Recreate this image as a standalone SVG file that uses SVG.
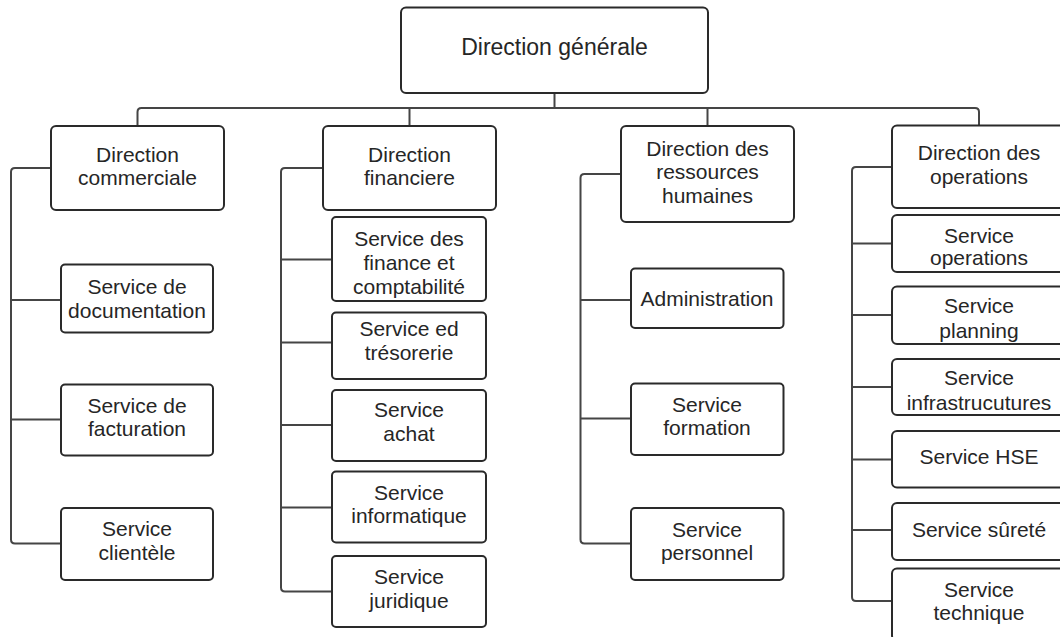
<svg xmlns="http://www.w3.org/2000/svg" width="1060" height="637" viewBox="0 0 1060 637">
<style>
.box{fill:#fff;stroke:#2a2a2a;stroke-width:2}
.con{fill:none;stroke:#454545;stroke-width:2}
text{font-family:"Liberation Sans",Arial,sans-serif;font-size:21px;fill:#262626;text-anchor:middle}
.big{font-size:23px}
</style>
<rect width="1060" height="637" fill="#fff"/>
<g id="connectors">
<path class="con" d="M554.5,93 V108"/>
<path class="con" d="M137.5,126 V112 Q137.5,108 141.5,108 H975 Q979,108 979,112 V125"/>
<path class="con" d="M409.5,108 V126"/>
<path class="con" d="M707.5,108 V126"/>
<path class="con" d="M51,168 H15 Q11,168 11,172 V539.5 Q11,543.5 15,543.5 H61 M11,300 H61 M11,419.5 H61"/>
<path class="con" d="M323,168 H285 Q281,168 281,172 V587.5 Q281,591.5 285,591.5 H332 M281,259.5 H332 M281,342.5 H332 M281,425 H332 M281,507.5 H332"/>
<path class="con" d="M621,174 H584.5 Q580.5,174 580.5,178 V539.5 Q580.5,543.5 584.5,543.5 H631 M580.5,300 H631 M580.5,418.5 H631"/>
<path class="con" d="M892,167 H856 Q852,167 852,171 V597 Q852,601 856,601 H892 M852,243.5 H892 M852,315 H892 M852,387 H892 M852,459.5 H892 M852,530 H892"/>
</g>
<g id="n-dg"><rect class="box" x="401" y="7.5" width="307" height="85.5" rx="5"/><text class="big" x="554.5" y="55">Direction générale</text></g>
<g id="n-dc"><rect class="box" x="51" y="126" width="173" height="84" rx="5"/><text x="137.5" y="161.5">Direction</text><text x="137.5" y="185">commerciale</text></g>
<g id="n-df"><rect class="box" x="323" y="126" width="173" height="84" rx="5"/><text x="409.5" y="161.5">Direction</text><text x="409.5" y="185">financiere</text></g>
<g id="n-drh"><rect class="box" x="621" y="126" width="173" height="96" rx="5"/><text x="707.5" y="155.5">Direction des</text><text x="707.5" y="179">ressources</text><text x="707.5" y="202.5">humaines</text></g>
<g id="n-dop"><rect class="box" x="892" y="125.5" width="174" height="82.5" rx="5"/><text x="979" y="160">Direction des</text><text x="979" y="183.5">operations</text></g>
<g id="n-doc"><rect class="box" x="61" y="264.5" width="152" height="68" rx="4"/><text x="137" y="294">Service de</text><text x="137" y="317.5">documentation</text></g>
<g id="n-fact"><rect class="box" x="61" y="384.5" width="152" height="71" rx="4"/><text x="137" y="412.5">Service de</text><text x="137" y="436">facturation</text></g>
<g id="n-cli"><rect class="box" x="61" y="508" width="152" height="72" rx="4"/><text x="137" y="536">Service</text><text x="137" y="560">clientèle</text></g>
<g id="n-fin"><rect class="box" x="332" y="217" width="154" height="84" rx="4"/><text x="409" y="245.5">Service des</text><text x="409" y="269.5">finance et</text><text x="409" y="293.5">comptabilité</text></g>
<g id="n-tres"><rect class="box" x="332" y="312.5" width="154" height="66.5" rx="4"/><text x="409" y="335.5">Service ed</text><text x="409" y="359.5">trésorerie</text></g>
<g id="n-ach"><rect class="box" x="332" y="390" width="154" height="71" rx="4"/><text x="409" y="417">Service</text><text x="409" y="441">achat</text></g>
<g id="n-inf"><rect class="box" x="332" y="471.5" width="154" height="71" rx="4"/><text x="409" y="499.5">Service</text><text x="409" y="523">informatique</text></g>
<g id="n-jur"><rect class="box" x="332" y="556" width="154" height="71" rx="4"/><text x="409" y="584">Service</text><text x="409" y="607.5">juridique</text></g>
<g id="n-adm"><rect class="box" x="631" y="268.5" width="152.5" height="59.5" rx="4"/><text x="707" y="306">Administration</text></g>
<g id="n-form"><rect class="box" x="631" y="383.5" width="152.5" height="71.5" rx="4"/><text x="707" y="411.5">Service</text><text x="707" y="435">formation</text></g>
<g id="n-pers"><rect class="box" x="631" y="508" width="152.5" height="72" rx="4"/><text x="707" y="536.5">Service</text><text x="707" y="560">personnel</text></g>
<g id="n-sop"><rect class="box" x="892" y="215" width="174" height="57" rx="5"/><text x="979" y="242.7">Service</text><text x="979" y="265">operations</text></g>
<g id="n-plan"><rect class="box" x="892" y="286.5" width="174" height="57.5" rx="5"/><text x="979" y="313">Service</text><text x="979" y="338">planning</text></g>
<g id="n-infra"><rect class="box" x="892" y="359" width="174" height="56" rx="5"/><text x="979" y="385">Service</text><text x="979" y="410">infrastrucutures</text></g>
<g id="n-hse"><rect class="box" x="892" y="431" width="174" height="56.5" rx="5"/><text x="979" y="464">Service HSE</text></g>
<g id="n-sur"><rect class="box" x="892" y="503" width="174" height="57" rx="5"/><text x="979" y="536.5">Service sûreté</text></g>
<g id="n-tech"><rect class="box" x="892" y="568.5" width="174" height="72" rx="5"/><text x="979" y="596.5">Service</text><text x="979" y="619.5">technique</text></g>
</svg>
